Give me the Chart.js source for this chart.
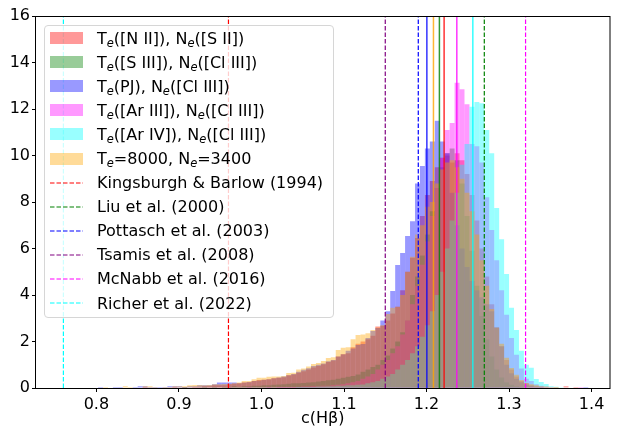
<!DOCTYPE html>
<html>
<head>
<meta charset="utf-8">
<script src="https://cdn.jsdelivr.net/npm/chart.js@4.4.1/dist/chart.umd.min.js"></script>
<style>
  html, body { margin: 0; padding: 0; background: #fff; }
  #wrap { position: relative; width: 617px; height: 427px; }
  #legend {
    position: absolute; left: 44px; top: 25px; width: 290px; height: 293px;
    box-sizing: border-box; border: 1px solid #d6d6d6; border-radius: 4px;
    background: rgba(255, 255, 255, 0.8);
    font-family: 'DejaVu Sans', sans-serif; font-size: 16px; color: #000;
  }
  .row { display: flex; align-items: center; height: 24.1px; white-space: nowrap; }
  .handle { width: 33px; height: 12px; margin-left: 5px; margin-right: 14px; flex: none; }
  .row sub { font-size: 11.5px; font-style: italic; vertical-align: -3px; line-height: 0; }
</style>
</head>
<body>
<div id="wrap">
  <canvas id="chart" width="617" height="427"></canvas>
  <div id="legend"></div>
</div>
<script>
// histogram bins: 0.76 .. 1.402, width 0.006
const binStart = 0.76;
const binWidth = 0.006;

// density per bin
const neNII = [
  0, 0, 0, 0, 0, 0, 0, 0, 0, 0,
  0, 0, 0, 0, 0, 0, 0.04, 0, 0, 0,
  0, 0, 0.04, 0, 0.04, 0, 0.04, 0.04, 0.08, 0.08,
  0.12, 0.12, 0.12, 0.16, 0.18, 0.2, 0.24, 0.25, 0.3, 0.34,
  0.35, 0.38, 0.42, 0.44, 0.46, 0.55, 0.58, 0.66, 0.72, 0.8,
  0.88, 0.95, 1.02, 1.12, 1.18, 1.35, 1.45, 1.5, 1.75, 1.9,
  2.0, 2.1, 2.25, 2.64, 2.68, 2.9, 3.2, 3.5, 4.2, 5.0,
  5.6, 6.45, 7.4, 8.3, 8.9, 9.5, 9.9, 10.0, 9.7, 10.1,
  9.8, 9.2, 8.3, 7.2, 6.0, 4.8, 3.6, 2.6, 1.8, 1.2,
  0.8, 0.5, 0.3, 0.2, 0.12, 0.08, 0.05, 0.04, 0, 0.04,
  0, 0.08, 0, 0.04, 0, 0, 0
];
const sIII = [
  0, 0, 0, 0, 0, 0, 0, 0, 0, 0,
  0, 0, 0, 0, 0, 0, 0, 0, 0, 0,
  0, 0, 0, 0, 0.04, 0, 0, 0, 0.04, 0,
  0.04, 0, 0.04, 0.04, 0.08, 0.04, 0.08, 0.08, 0.1, 0.1,
  0.12, 0.12, 0.14, 0.15, 0.16, 0.18, 0.2, 0.2, 0.22, 0.24,
  0.25, 0.28, 0.3, 0.33, 0.36, 0.4, 0.44, 0.48, 0.52, 0.58,
  0.7, 0.8, 0.9, 1.0, 1.2, 1.4, 1.7, 2.0, 2.4, 2.9,
  4.0, 4.8, 5.7, 6.6, 7.6, 8.6, 9.5, 10.1, 10.3, 9.8,
  8.8, 7.4, 5.9, 4.4, 3.1, 2.1, 1.35, 0.8, 0.45, 0.25,
  0.14, 0.08, 0.04, 0, 0, 0, 0, 0, 0, 0,
  0, 0, 0, 0, 0, 0, 0
];
const pj = [
  0, 0, 0, 0, 0, 0, 0, 0.04, 0, 0,
  0.04, 0.04, 0, 0, 0.04, 0.08, 0.08, 0.04, 0.04, 0.04,
  0.04, 0.08, 0.08, 0.08, 0.04, 0.08, 0.08, 0.12, 0.12, 0.12,
  0.16, 0.24, 0.24, 0.24, 0.24, 0.2, 0.24, 0.26, 0.3, 0.32,
  0.35, 0.38, 0.42, 0.45, 0.5, 0.55, 0.6, 0.7, 0.78, 0.85,
  0.95, 1.0, 1.05, 1.15, 1.2, 1.35, 1.45, 1.6, 1.7, 1.85,
  1.89, 2.15, 2.45, 2.58, 2.9, 3.3, 4.17, 5.29, 5.81, 6.54,
  7.17, 8.8, 9.55, 10.3, 10.6, 11.5, 10.6, 10.1, 8.4, 7.0,
  6.0, 5.2, 4.6, 4.2, 3.9, 3.6, 3.3, 2.6, 1.8, 1.0,
  0.63, 0.4, 0.25, 0.15, 0.1, 0.05, 0.04, 0, 0, 0,
  0, 0, 0, 0, 0, 0.04, 0
];
const arIII = [
  0, 0, 0, 0, 0, 0, 0, 0, 0, 0,
  0, 0, 0, 0, 0, 0, 0, 0, 0, 0,
  0, 0, 0, 0, 0, 0, 0, 0, 0, 0,
  0, 0, 0, 0.04, 0, 0, 0, 0.04, 0, 0,
  0, 0.04, 0, 0.04, 0.04, 0.04, 0.04, 0.04, 0.06, 0.06,
  0.08, 0.08, 0.1, 0.1, 0.12, 0.14, 0.16, 0.2, 0.25, 0.3,
  0.4, 0.5, 0.6, 0.8, 1.0, 1.2, 1.5, 1.8, 2.3, 2.9,
  3.6, 4.4, 5.3, 6.3, 7.4, 8.6, 9.9, 11.1, 11.4, 13.13,
  12.85, 12.2, 10.5, 10.4, 9.7, 8.2, 6.8, 5.5, 4.2, 3.15,
  2.15, 1.43, 0.84, 0.4, 0.3, 0.16, 0.1, 0.06, 0.04, 0,
  0, 0, 0, 0, 0.04, 0, 0
];
const arIV = [
  0, 0, 0, 0, 0, 0, 0, 0, 0, 0,
  0, 0, 0, 0, 0, 0, 0, 0, 0, 0,
  0, 0, 0, 0, 0, 0, 0, 0, 0, 0,
  0, 0, 0, 0, 0, 0, 0, 0, 0, 0,
  0, 0, 0, 0, 0.02, 0.02, 0.02, 0.04, 0.04, 0.04,
  0.04, 0.06, 0.06, 0.08, 0.08, 0.1, 0.1, 0.12, 0.12, 0.14,
  0.15, 0.2, 0.25, 0.3, 0.4, 0.5, 0.6, 0.8, 1.0, 1.2,
  1.5, 1.8, 2.2, 2.7, 3.3, 4.0, 5.0, 6.0, 7.2, 8.4,
  9.6, 10.5, 12.1, 12.3, 12.25, 11.1, 10.1, 7.74, 6.4, 4.9,
  3.45, 2.5, 1.6, 1.0, 0.87, 0.39, 0.26, 0.17, 0.08, 0.05,
  0.03, 0.02, 0, 0, 0, 0, 0
];
const fixed8000 = [
  0, 0, 0, 0, 0, 0, 0, 0, 0.04, 0,
  0, 0, 0.08, 0.04, 0, 0, 0.08, 0.08, 0.04, 0,
  0.04, 0.04, 0.08, 0.08, 0.08, 0.12, 0.13, 0.13, 0.12, 0.13,
  0.16, 0.16, 0.17, 0.17, 0.2, 0.24, 0.3, 0.3, 0.38, 0.44,
  0.44, 0.48, 0.5, 0.5, 0.52, 0.64, 0.66, 0.8, 0.84, 0.92,
  1.03, 1.08, 1.16, 1.29, 1.32, 1.63, 1.73, 1.75, 2.1, 2.28,
  2.3, 2.35, 2.5, 2.6, 2.7, 3.18, 3.45, 3.5, 4.0, 5.0,
  5.65, 6.6, 7.0, 7.8, 8.0, 8.8, 9.4, 9.7, 9.8, 9.5,
  9.0, 8.4, 7.6, 6.6, 5.5, 4.4, 3.4, 2.6, 1.9, 1.3,
  0.86, 0.57, 0.34, 0.22, 0.16, 0.12, 0.08, 0.06, 0.04, 0.04,
  0.02, 0, 0, 0, 0, 0, 0
];

const seriesLabels = [
  'T_e([N II]), N_e([S II])',
  'T_e([S III]), N_e([Cl III])',
  'T_e(PJ), N_e([Cl III])',
  'T_e([Ar III]), N_e([Cl III])',
  'T_e([Ar IV]), N_e([Cl III])',
  'T_e=8000, N_e=3400'
];
const seriesData = [neNII, sIII, pj, arIII, arIV, fixed8000];
const seriesMedians = [1.2213, 1.2156, 1.2004, 1.2367, 1.2561, 1.2084];

const refLabels = [
  'Kingsburgh & Barlow (1994)',
  'Liu et al. (2000)',
  'Pottasch et al. (2003)',
  'Tsamis et al. (2008)',
  'McNabb et al. (2016)',
  'Richer et al. (2022)'
];
const refValues = [0.96, 1.27, 1.19, 1.15, 1.32, 0.76];

const xTicks = [0.8, 0.9, 1.0, 1.1, 1.2, 1.3, 1.4];
const yMax = 16;

const seriesRGB = ['255,0,0', '0,128,0', '0,0,255', '255,0,255', '0,255,255', '255,165,0'];
const refRGB = ['255,0,0', '0,128,0', '0,0,255', '128,0,128', '255,0,255', '0,255,255'];

const binCenters = neNII.map((_, i) => +(binStart + binWidth * (i + 0.5)).toFixed(4));

const datasets = [];
// bars: first series at the bottom, like the original drawing order
seriesData.forEach((vals, s) => {
  datasets.push({
    type: 'bar',
    data: vals.map((v, i) => ({ x: binCenters[i], y: v })),
    backgroundColor: 'rgba(' + seriesRGB[s] + ',0.4)',
    borderWidth: 0,
    inflateAmount: 0,
    grouped: false,
    barPercentage: 1,
    categoryPercentage: 1,
    order: 20 - s
  });
});
seriesMedians.forEach((m, s) => {
  datasets.push({
    type: 'line',
    data: [{ x: m, y: 0 }, { x: m, y: yMax }],
    borderColor: 'rgba(' + seriesRGB[s] + ',0.8)',
    borderWidth: 1.5,
    pointRadius: 0,
    order: 8 - s
  });
});
refValues.forEach((r, s) => {
  datasets.push({
    type: 'line',
    data: [{ x: r, y: 0 }, { x: r, y: yMax }],
    borderColor: 'rgb(' + refRGB[s] + ')',
    borderWidth: 1.2,
    borderDash: [4.5, 2],
    pointRadius: 0,
    order: 2
  });
});

const frame = {
  id: 'frame',
  afterDraw(chart) {
    const { ctx, chartArea: a } = chart;
    ctx.save();
    ctx.strokeStyle = '#000';
    ctx.lineWidth = 1;
    ctx.strokeRect(Math.round(a.left) - 0.5, Math.round(a.top) + 0.5,
      Math.round(a.right - a.left) + 0.5, Math.round(a.bottom - a.top));
    ctx.restore();
  }
};

Chart.defaults.font.family = 'DejaVu Sans';
const tickFont = { family: 'DejaVu Sans', size: 16 };

new Chart(document.getElementById('chart'), {
  type: 'bar',
  data: { datasets },
  options: {
    responsive: false,
    animation: false,
    events: [],
    devicePixelRatio: 1,
    layout: { padding: { top: 16, right: 7.5, left: 0, bottom: 0 } },
    plugins: { legend: { display: false }, tooltip: { enabled: false } },
    scales: {
      x: {
        type: 'linear',
        min: 0.7268,
        max: 1.4217,
        offset: false,
        afterBuildTicks: s => { s.ticks = xTicks.map(v => ({ value: v })); },
        afterFit: s => { s.height = 39; },
        ticks: { font: tickFont, color: '#000', padding: 3, maxRotation: 0, autoSkip: false,
          callback: v => Number(v).toFixed(1) },
        grid: { display: true, offset: false, drawOnChartArea: false, drawTicks: true, tickLength: 4, color: '#000' },
        border: { display: false },
        title: { display: true, text: 'c(Hβ)', font: { family: 'DejaVu Sans', size: 16, lineHeight: 1 },
          color: '#000', padding: { top: 0, bottom: 0 } }
      },
      y: {
        min: 0,
        max: yMax,
        afterFit: s => { s.width = 36; },
        ticks: { stepSize: 2, font: tickFont, color: '#000', padding: 2 },
        grid: { display: true, drawOnChartArea: false, drawTicks: true, tickLength: 4, color: '#000' },
        border: { display: false }
      }
    }
  },
  plugins: [frame]
});

// legend with subscripts
const legend = document.getElementById('legend');
function addLabel(row, text) {
  const span = document.createElement('span');
  text.split('_e').forEach((part, i) => {
    if (i > 0) {
      const sub = document.createElement('sub');
      sub.textContent = 'e';
      span.appendChild(sub);
    }
    span.appendChild(document.createTextNode(part));
  });
  row.appendChild(span);
}
seriesLabels.forEach((lab, s) => {
  const row = document.createElement('div');
  row.className = 'row';
  const h = document.createElement('div');
  h.className = 'handle';
  h.style.background = 'rgba(' + seriesRGB[s] + ',0.4)';
  row.appendChild(h);
  addLabel(row, lab);
  legend.appendChild(row);
});
refLabels.forEach((lab, s) => {
  const row = document.createElement('div');
  row.className = 'row';
  const h = document.createElementNS('http://www.w3.org/2000/svg', 'svg');
  h.setAttribute('class', 'handle');
  h.setAttribute('width', '33');
  h.setAttribute('height', '12');
  const ln = document.createElementNS('http://www.w3.org/2000/svg', 'line');
  ln.setAttribute('x1', '0'); ln.setAttribute('x2', '33');
  ln.setAttribute('y1', '6'); ln.setAttribute('y2', '6');
  ln.setAttribute('stroke', 'rgb(' + refRGB[s] + ')');
  ln.setAttribute('stroke-width', '1.2');
  ln.setAttribute('stroke-dasharray', '4.5 2');
  h.appendChild(ln);
  row.appendChild(h);
  addLabel(row, lab);
  legend.appendChild(row);
});
</script>
</body>
</html>
